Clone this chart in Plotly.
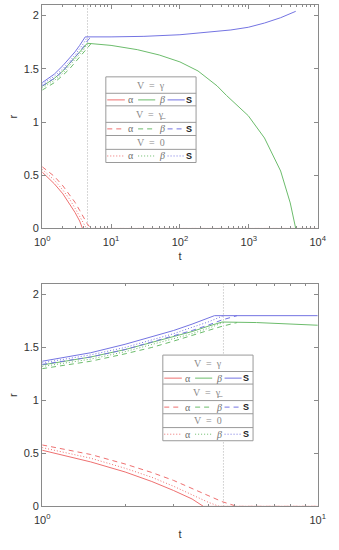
import plotly.graph_objects as go

W, H = 339, 550

# ---------------- data ----------------
# V = gamma (solid)
t_alpha_solid = [1, 1.5, 2, 2.5, 3, 3.5, 3.85, 10000]
r_alpha_solid = [0.53, 0.42, 0.325, 0.235, 0.15, 0.07, 0, 0]
t_beta_solid = [1, 1.5, 2, 2.5, 3, 3.5, 4, 4.5, 6, 10, 24, 50, 100, 183, 346, 474, 981, 1690, 2900, 4000, 4800]
r_beta_solid = [1.335, 1.41, 1.48, 1.55, 1.60, 1.65, 1.70, 1.74, 1.735, 1.72, 1.68, 1.63, 1.565, 1.48, 1.34, 1.25, 1.06, 0.85, 0.54, 0.24, 0.0]
t_S_solid = [1, 1.5, 2, 2.5, 3, 3.5, 4.22, 10, 30, 100, 346, 550, 981, 1690, 2900, 4800]
r_S_solid = [1.37, 1.45, 1.53, 1.60, 1.66, 1.72, 1.80, 1.80, 1.805, 1.82, 1.85, 1.865, 1.89, 1.93, 1.98, 2.04]

# V = gamma-underline (dashed)
t_alpha_dash = [1, 1.5, 2, 2.5, 3, 3.5, 4, 4.5, 5.1, 10000]
r_alpha_dash = [0.58, 0.49, 0.40, 0.32, 0.245, 0.17, 0.10, 0.045, 0, 0]
t_beta_dash = [1, 1.5, 2, 2.5, 3, 3.5, 4, 4.5, 5.1]
r_beta_dash = [1.30, 1.37, 1.44, 1.50, 1.56, 1.61, 1.66, 1.70, 1.735]
t_S_dash = [1, 1.5, 2, 2.5, 3, 3.5, 4, 4.5, 5.1]
r_S_dash = [1.34, 1.41, 1.48, 1.55, 1.61, 1.66, 1.71, 1.76, 1.80]

# V = 0 (dotted)
t_alpha_dot = [1, 1.5, 2, 2.5, 3, 3.5, 4, 4.4, 10000]
r_alpha_dot = [0.555, 0.455, 0.36, 0.275, 0.19, 0.11, 0.04, 0, 0]
t_beta_dot = [1, 1.5, 2, 2.5, 3, 3.5, 4, 4.6]
r_beta_dot = [1.32, 1.39, 1.46, 1.53, 1.58, 1.63, 1.68, 1.74]
t_S_dot = [1, 1.5, 2, 2.5, 3, 3.5, 4, 4.55]
r_S_dot = [1.355, 1.43, 1.50, 1.57, 1.63, 1.69, 1.74, 1.80]

t_switch = 4.55  # vertical dotted reference line

y_ticks = [0, 0.5, 1, 1.5, 2]
x_ticks_top = [1, 10, 100, 1000, 10000]
x_ticktext_top = ["10<sup>0</sup>", "10<sup>1</sup>", "10<sup>2</sup>", "10<sup>3</sup>", "10<sup>4</sup>"]
x_ticks_bot = [1, 10]
x_ticktext_bot = ["10<sup>0</sup>", "10<sup>1</sup>"]

legend_headers = ["V  =  \u03b3", "V  =  \u03b3\u0332", "V  =  0"]
legend_labels = ["\u03b1", "\u03b2", "S"]

# ---------------- styles ----------------
RED, GREEN, BLUE = "#EE7070", "#6CBC6C", "#7474E2"
AX = "#8a8a8a"
TXT = "#333333"
DASH = "5px,4px"
DOT = "1px,2px"

series = [
    (t_alpha_solid, r_alpha_solid, RED, "solid"),
    (t_beta_solid, r_beta_solid, GREEN, "solid"),
    (t_S_solid, r_S_solid, BLUE, "solid"),
    (t_alpha_dash, r_alpha_dash, RED, DASH),
    (t_beta_dash, r_beta_dash, GREEN, DASH),
    (t_S_dash, r_S_dash, BLUE, DASH),
    (t_alpha_dot, r_alpha_dot, RED, DOT),
    (t_beta_dot, r_beta_dot, GREEN, DOT),
    (t_S_dot, r_S_dot, BLUE, DOT),
]

fig = go.Figure()
for xa, ya in [("x", "y"), ("x2", "y2")]:
    fig.add_trace(go.Scatter(x=[t_switch, t_switch], y=[0, 2.1], mode="lines",
                             line=dict(color="#b0b0b0", width=1, dash=DOT),
                             xaxis=xa, yaxis=ya, showlegend=False, hoverinfo="skip"))
    for tx, ry, col, dash in series:
        fig.add_trace(go.Scatter(x=tx, y=ry, mode="lines", line=dict(color=col, width=1, dash=dash),
                                 xaxis=xa, yaxis=ya, showlegend=False, hoverinfo="skip"))

def px_x(p):
    return p / W

def px_y(p):
    return 1 - p / H

minor_top = [m * 10 ** d for d in range(4) for m in range(2, 10)]
minor_bot = list(range(2, 10))

FONT = dict(family="Liberation Sans, Arial", size=11, color=TXT)
common_x = dict(type="log", showline=True, linecolor=AX, linewidth=1, mirror="ticks",
                ticks="inside", ticklen=4, tickcolor=AX, showgrid=False, zeroline=False,
                tickfont=FONT, ticklabeloverflow="allow", ticklabelstandoff=3)
common_y = dict(range=[0, 2.1], tickvals=y_ticks, ticktext=["0", "0.5", "1", "1.5", "2"],
                showline=True, linecolor=AX, linewidth=1, mirror="ticks",
                ticks="inside", ticklen=4, tickcolor=AX, showgrid=False, zeroline=False,
                tickfont=FONT, title=dict(text="r", font=FONT, standoff=3))

fig.update_layout(
    width=W, height=H, margin=dict(l=0, r=0, t=0, b=0),
    paper_bgcolor="white", plot_bgcolor="white",
    xaxis=dict(common_x, domain=[px_x(36), px_x(326)], range=[0, 4], anchor="y",
               tickvals=x_ticks_top, ticktext=x_ticktext_top,
               minor=dict(tickvals=minor_top, ticks="inside", ticklen=2, tickcolor=AX),
               title=dict(text="t", font=FONT, standoff=5)),
    yaxis=dict(common_y, domain=[px_y(231), px_y(5)], anchor="x"),
    xaxis2=dict(common_x, domain=[px_x(36), px_x(326)], range=[0, 1], anchor="y2",
                tickvals=x_ticks_bot, ticktext=x_ticktext_bot,
                minor=dict(tickvals=minor_bot, ticks="inside", ticklen=2, tickcolor=AX),
                title=dict(text="t", font=FONT, standoff=5)),
    yaxis2=dict(common_y, domain=[px_y(512), px_y(287)], anchor="x2"),
)

# ---------------- custom grouped legend ----------------
shapes = []
annots = []
dashes = ["solid", DASH, DOT]
colors = [RED, GREEN, BLUE]

def legend(x0, y0):
    w, h = 95, 86.6
    shapes.append(dict(type="rect", xref="paper", yref="paper",
                       x0=px_x(x0), x1=px_x(x0 + w), y0=px_y(y0 + h), y1=px_y(y0),
                       line=dict(color="#9a9a9a", width=1), fillcolor="white", layer="above"))
    seps = [16.6, 29.3, 46, 59.3, 73.3]
    for s in seps:
        shapes.append(dict(type="line", xref="paper", yref="paper",
                           x0=px_x(x0), x1=px_x(x0 + w), y0=px_y(y0 + s), y1=px_y(y0 + s),
                           line=dict(color="#9a9a9a", width=1), layer="above"))
    head_y = [9, 38.3, 66.6]
    entry_y = [23.3, 52.6, 80]
    for g in range(3):
        annots.append(dict(xref="paper", yref="paper", x=px_x(x0 + w / 2), y=px_y(y0 + head_y[g]),
                           text=legend_headers[g], showarrow=False, xanchor="center", yanchor="middle",
                           font=dict(family="Liberation Serif, DejaVu Serif", size=10, color="#8a8a8a")))
        segs = [(1.5, 20), (34, 52), (65, 83)]
        lab_x = [26, 58.7, 88]
        for k in range(3):
            shapes.append(dict(type="line", xref="paper", yref="paper",
                               x0=px_x(x0 + segs[k][0]), x1=px_x(x0 + segs[k][1]),
                               y0=px_y(y0 + entry_y[g]), y1=px_y(y0 + entry_y[g]),
                               line=dict(color=colors[k], width=1, dash=dashes[g]), layer="above"))
            if k == 0:
                fnt = dict(family="Liberation Serif, DejaVu Serif", size=10, color="#707070")
                txt = legend_labels[k]
            elif k == 1:
                fnt = dict(family="Liberation Serif, DejaVu Serif", size=10, color="#707070")
                txt = "<i>" + legend_labels[k] + "</i>"
            else:
                fnt = dict(family="Liberation Sans, Arial", size=9, color="#222222")
                txt = "<b>" + legend_labels[k] + "</b>"
            annots.append(dict(xref="paper", yref="paper", x=px_x(x0 + lab_x[k]), y=px_y(y0 + entry_y[g]),
                               text=txt, showarrow=False, xanchor="center", yanchor="middle", font=fnt))

legend(103, 77.7)
legend(163, 359)
fig.update_layout(shapes=shapes, annotations=annots)

# remove the default 8px page margin so the figure sits at the window's corner
fig.write_html("out.html", config={"displayModeBar": False},
               post_script="document.body.style.margin='0';document.body.style.overflow='hidden';")
